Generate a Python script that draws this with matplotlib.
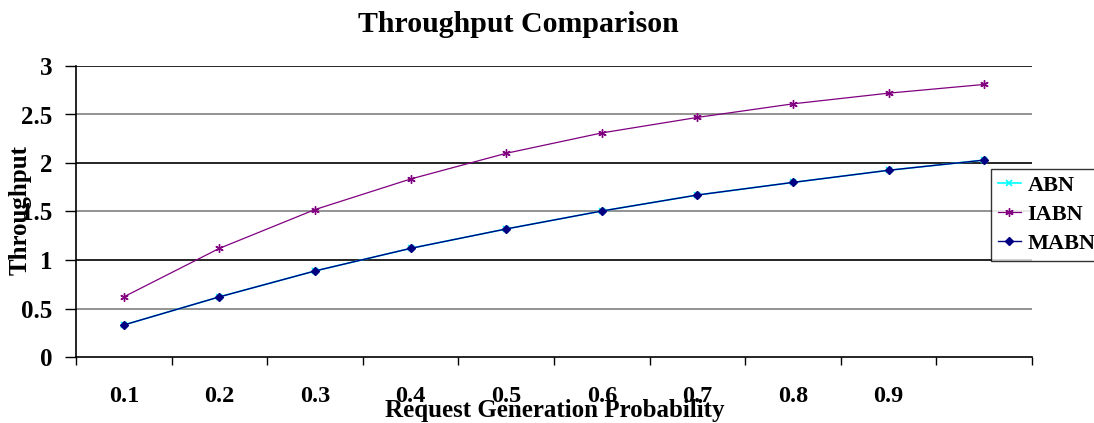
import numpy as np
import matplotlib.pyplot as plt

plt.rcParams['font.family'] = ['Liberation Serif', 'DejaVu Serif']
plt.rcParams['font.weight'] = 'bold'

categories = ['0.1', '0.2', '0.3', '0.4', '0.5', '0.6', '0.7', '0.8', '0.9', '']
iabn = [0.62, 1.12, 1.52, 1.835, 2.10, 2.31, 2.47, 2.61, 2.72, 2.81]
mabn = [0.33, 0.62, 0.887, 1.12, 1.32, 1.505, 1.67, 1.80, 1.925, 2.03]
abn = [0.33, 0.62, 0.887, 1.12, 1.32, 1.505, 1.67, 1.80, 1.925, 2.03]

W, H = 1094, 423
fig = plt.figure(figsize=(W / 100, H / 100), dpi=100)
ax = fig.add_axes([76 / W, 1 - 357 / H, (1032 - 76) / W, (357 - 66) / H])

x = np.arange(len(categories))

# grid lines, Excel style
for v in np.arange(0.5, 3.01, 0.5):
    col = 'black' if v % 1 == 0 else '#808080'
    ax.axhline(v, color=col, lw=1.2, zorder=1)

l1, = ax.plot(x, abn, color='#00FFFF', lw=1.2, marker='x', ms=5, mew=1.2, zorder=2, label='ABN')
l2, = ax.plot(x, iabn, color='#800080', lw=0.9, marker=(6, 2, 0), ms=6, mew=1.0, zorder=3, label='IABN')
l3, = ax.plot(x, mabn, color='#000080', lw=1.0, marker='D', ms=4, zorder=4, label='MABN')

ax.set_xlim(-0.5, len(categories) - 0.5)
ax.set_ylim(0, 3)
ax.set_yticks(np.arange(0, 3.01, 0.5))
ax.set_yticklabels(['0', '0.5', '1', '1.5', '2', '2.5', '3'])
ax.set_xticks(x)
ax.set_xticklabels(categories)
ax.set_xticks(np.arange(-0.5, len(categories)), minor=True)
ax.tick_params(axis='x', which='major', length=0, pad=21, labelsize=17.5)
ax.tick_params(axis='x', which='minor', length=6, width=1, direction='out')
ax.tick_params(axis='y', length=8, width=1, pad=9, labelsize=18)

for s in ['top', 'right']:
    ax.spines[s].set_visible(False)
for s in ['left', 'bottom']:
    ax.spines[s].set_linewidth(1.2)

fig.text(518 / W, 1 - 32 / H, 'Throughput Comparison', ha='center', va='baseline',
         fontsize=21.5, fontweight='bold')
fig.text(555 / W, 1 - 417 / H, 'Request Generation Probability', ha='center', va='baseline',
         fontsize=18, fontweight='bold')
fig.text(20 / W, 1 - 210 / H, 'Throughput', ha='center', va='center', rotation=90,
         fontsize=18, fontweight='bold')

leg = fig.legend(handles=[l1, l2, l3], loc='upper left',
                 bbox_to_anchor=(991 / W, 1 - 169 / H), frameon=True, fancybox=False,
                 edgecolor='black', fontsize=16, handlelength=1.05, handletextpad=0.3,
                 borderpad=0.3, labelspacing=0.38, borderaxespad=0)
leg.get_frame().set_linewidth(1.0)

fig.savefig('out.png', dpi=100)
